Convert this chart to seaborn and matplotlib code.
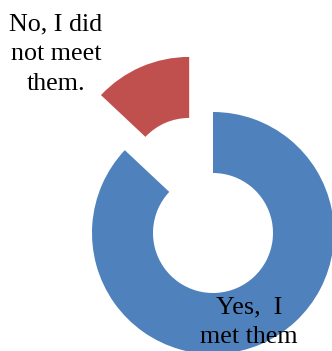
import matplotlib
matplotlib.use("Agg")
import matplotlib.pyplot as plt
import seaborn as sns

# Survey answers and their shares (percent)
answers = ["Yes,  I\nmet them", "No, I did\nnot meet\nthem."]
shares = [87, 13]
colors = ["#4F81BD", "#C0504D"]

sns.set_theme(style="white")
plt.rcParams["font.family"] = ["Liberation Serif", "DejaVu Serif"]

W, H = 332, 351
fig = plt.figure(figsize=(W / 100, H / 100), dpi=100)
ax = fig.add_axes([0, 0, 1, 1])

wedges, _ = ax.pie(
    shares,
    colors=colors,
    startangle=90,
    counterclock=False,
    explode=[0, 60],
    center=(213, H - 233),
    radius=121,
    wedgeprops=dict(width=61, linewidth=0),
)

# Category labels placed beside their slices
ax.text(249, H - 322, answers[0], ha="center", va="center",
        fontsize=18.7, color="black", linespacing=1.42)
ax.text(56, H - 54, answers[1], ha="center", va="center",
        fontsize=18.7, color="black", linespacing=1.45)

ax.set_xlim(0, W)
ax.set_ylim(0, H)
ax.set_aspect("equal")
ax.axis("off")

fig.savefig("out.png", dpi=100, facecolor="white")
